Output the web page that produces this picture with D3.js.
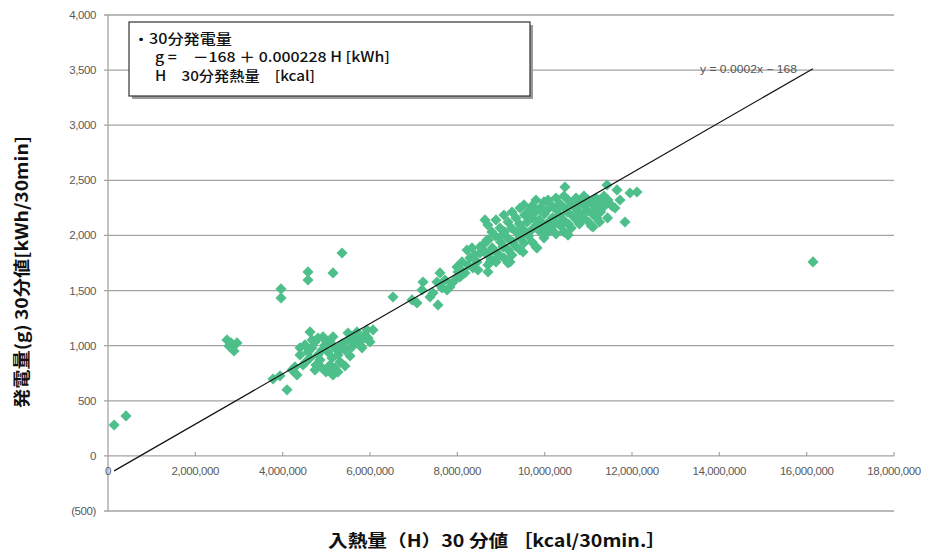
<!DOCTYPE html>
<html>
<head>
<meta charset="utf-8">
<script src="https://cdn.jsdelivr.net/npm/d3@7"></script>
<style>
  body { margin: 0; background: #fff; }
  svg { display: block; }
</style>
</head>
<body>
<svg id="chart" width="925" height="554"></svg>
<script>
// Axis ticks
const xTicks = [0, 2000000, 4000000, 6000000, 8000000, 10000000, 12000000, 14000000, 16000000, 18000000];
const yTicks = [-500, 0, 500, 1000, 1500, 2000, 2500, 3000, 3500, 4000];

// Regression: g = -168 + 0.000228 H
const regIntercept = -168;
const regSlope = 0.000228;
const regLabel = "y = 0.0002x − 168";

const legendLines = ["・30分発電量", "g =　－168 ＋ 0.000228 H [kWh]", "H　30分発熱量　[kcal]"];
const xTitle = "入熱量（H）30 分値 ［kcal/30min.］";
const yTitle = "発電量(g) 30分値[kWh/30min]";

// Measured 30-minute values: [heat input H (kcal), generation g (kWh)]
const lowLoad = [
  [140000, 280], [412000, 363],
  [2725000, 1052], [2954000, 1025], [2840000, 980], [2771000, 998], [2886000, 952], [2817000, 1025],
  [3962000, 1515], [3962000, 1433], [4580000, 1669], [4580000, 1596], [5153000, 1660], [5359000, 1841],
  [3779000, 698], [3939000, 726], [4214000, 780], [4328000, 735], [4282000, 807], [4099000, 599]
];
const midLoad = [
  [4511000, 1007], [4580000, 943], [4672000, 980], [4740000, 1034], [4809000, 916], [4855000, 871],
  [4901000, 961], [4969000, 1007], [5038000, 943], [5084000, 825], [5130000, 889], [5198000, 980],
  [5267000, 916], [5313000, 853], [5359000, 1016], [5427000, 961], [5496000, 1052], [5542000, 907],
  [5588000, 989], [5656000, 1034], [5725000, 1070], [5771000, 1007], [5817000, 1052], [5885000, 1097],
  [5954000, 1070], [6000000, 1034], [4534000, 853], [4626000, 889], [4763000, 825], [4901000, 798],
  [5038000, 780], [5198000, 798], [5267000, 762], [5427000, 816], [4672000, 1052], [4809000, 1070],
  [4969000, 1052], [5084000, 1034], [4397000, 916], [4466000, 825], [4397000, 980], [5313000, 961],
  [5588000, 1088], [5702000, 1125], [5817000, 980], [5931000, 1143], [4740000, 780], [5153000, 735],
  [4992000, 762], [4626000, 1125], [4924000, 1080], [5153000, 1080], [5496000, 1115], [6069000, 1143]
];
const rising = [
  [6527000, 1442], [6962000, 1415], [7076000, 1388], [7214000, 1578], [7191000, 1506], [7374000, 1442],
  [7443000, 1478], [7557000, 1370], [7534000, 1578], [7603000, 1660], [7763000, 1506], [7832000, 1533],
  [7878000, 1569], [7992000, 1714], [7946000, 1596], [8061000, 1623], [8130000, 1669], [8175000, 1660],
  [8244000, 1732], [8221000, 1868], [8359000, 1705], [8450000, 1760], [8519000, 1841], [8519000, 1896],
  [8588000, 1914], [8702000, 1669], [8679000, 1959], [8817000, 1868], [8908000, 1796], [8977000, 1986],
  [9046000, 1896], [9206000, 1760], [9275000, 1941], [9435000, 1986], [9504000, 1850], [9824000, 1887],
  [8290000, 1796], [8404000, 1823], [8633000, 1850], [8748000, 1760], [7717000, 1596], [8015000, 1669],
  [7649000, 1524], [8107000, 1760], [8336000, 1887], [8473000, 1687]
];
const highLoad = [
  [8700000, 2095], [8710000, 1959], [8690000, 1823], [8700000, 1732],
  [8790000, 2032], [8800000, 1887], [8780000, 1778],
  [8885000, 2141], [8870000, 1995], [8890000, 1850], [8885000, 1760],
  [8977000, 2068], [8990000, 1941], [8960000, 1823],
  [9068000, 2186], [9080000, 2032], [9060000, 1905], [9068000, 1796],
  [9160000, 2122], [9150000, 1977], [9170000, 1868], [9160000, 1750],
  [9252000, 2213], [9240000, 2068], [9260000, 1941], [9252000, 1823],
  [9343000, 2159], [9350000, 2032], [9330000, 1905],
  [9435000, 2249], [9420000, 2104], [9445000, 1977], [9435000, 1868],
  [9526000, 2277], [9540000, 2186], [9520000, 2050], [9526000, 1932],
  [9618000, 2213], [9600000, 2122], [9630000, 1995],
  [9710000, 2268], [9720000, 2159], [9700000, 2050], [9710000, 1941],
  [9801000, 2322], [9790000, 2213], [9810000, 2095], [9801000, 1896],
  [9893000, 2249], [9880000, 2141], [9900000, 2032],
  [9984000, 2304], [9995000, 2195], [9970000, 2086], [9984000, 1977],
  [10076000, 2322], [10060000, 2231], [10090000, 2122], [10076000, 2032],
  [10168000, 2268], [10180000, 2159], [10150000, 2068],
  [10259000, 2340], [10270000, 2231], [10245000, 2122], [10259000, 2014],
  [10351000, 2286], [10340000, 2186], [10365000, 2086],
  [10442000, 2358], [10455000, 2249], [10430000, 2141], [10442000, 2032],
  [10534000, 2322], [10520000, 2213], [10545000, 2104], [10534000, 2004],
  [10626000, 2277], [10640000, 2177], [10610000, 2068],
  [10717000, 2340], [10705000, 2249], [10730000, 2141],
  [10809000, 2304], [10820000, 2204], [10795000, 2104],
  [10900000, 2358], [10915000, 2268], [10890000, 2159],
  [10992000, 2322], [10980000, 2222], [11005000, 2122],
  [11084000, 2286], [11095000, 2195], [11070000, 2086],
  [11175000, 2340], [11160000, 2249], [11190000, 2159],
  [11267000, 2304], [11280000, 2213], [11255000, 2122],
  [11358000, 2358], [11370000, 2268],
  [11450000, 2322], [11440000, 2159],
  [11542000, 2268],
  [10465000, 2440], [11427000, 2458], [11656000, 2413], [11954000, 2385], [12114000, 2394],
  [11610000, 2249], [11839000, 2122], [10534000, 2004], [11107000, 2077], [8633000, 2141], [11725000, 2322]
];
const farPoint = [[16145000, 1760]];

const allPoints = [...lowLoad, ...midLoad, ...rising, ...highLoad, ...farPoint];

const svg = d3.select("#chart");
const plot = { left: 108, right: 894, top: 15, bottom: 511 };

const x = d3.scaleLinear().domain([0, 18000000]).range([plot.left, plot.right]);
const y = d3.scaleLinear().domain([-500, 4000]).range([plot.bottom, plot.top]);

const gridColor = "#a3a3a3";
const labelColor = "#5a5a5a";

// horizontal gridlines
svg.append("g")
  .selectAll("line")
  .data(yTicks)
  .join("line")
  .attr("x1", plot.left - 4)
  .attr("x2", plot.right)
  .attr("y1", d => y(d))
  .attr("y2", d => y(d))
  .attr("stroke", gridColor)
  .attr("stroke-width", 1.3);

// vertical axis line
svg.append("line")
  .attr("x1", plot.left).attr("x2", plot.left)
  .attr("y1", plot.top).attr("y2", plot.bottom)
  .attr("stroke", gridColor).attr("stroke-width", 1.3);

// x-axis ticks on the zero line
svg.append("g")
  .selectAll("line")
  .data(xTicks.slice(1))
  .join("line")
  .attr("x1", d => x(d)).attr("x2", d => x(d))
  .attr("y1", y(0) - 4).attr("y2", y(0))
  .attr("stroke", gridColor).attr("stroke-width", 1.2);

const fmt = d3.format(",");
svg.append("g")
  .selectAll("text")
  .data(yTicks)
  .join("text")
  .attr("x", 96)
  .attr("y", d => y(d) + 4)
  .attr("text-anchor", "end")
  .attr("font-family", "Liberation Sans, Arial, sans-serif")
  .attr("font-size", 11.5)
  .attr("letter-spacing", -0.4)
  .attr("fill", labelColor)
  .text(d => d < 0 ? "(" + fmt(-d) + ")" : fmt(d));

svg.append("g")
  .selectAll("text")
  .data(xTicks)
  .join("text")
  .attr("x", d => x(d))
  .attr("y", y(0) + 19)
  .attr("text-anchor", "middle")
  .attr("font-family", "Liberation Sans, Arial, sans-serif")
  .attr("font-size", 11.5)
  .attr("letter-spacing", -0.4)
  .attr("fill", labelColor)
  .text(d => fmt(d));

// scatter markers (diamonds)
const diamond = d3.symbol().type(d3.symbolSquare).size(62);
svg.append("g")
  .selectAll("path")
  .data(allPoints)
  .join("path")
  .attr("d", diamond)
  .attr("transform", d => `translate(${x(d[0])},${y(d[1])}) rotate(45)`)
  .attr("fill", "#4dbf8b");

// linear trend across the data range
const hMin = d3.min(allPoints, d => d[0]);
const hMax = d3.max(allPoints, d => d[0]);
svg.append("line")
  .attr("x1", x(hMin)).attr("y1", y(regIntercept + regSlope * hMin))
  .attr("x2", x(hMax)).attr("y2", y(regIntercept + regSlope * hMax))
  .attr("stroke", "#111").attr("stroke-width", 1.2);

svg.append("text")
  .attr("x", x(hMax) - 113)
  .attr("y", y(regIntercept + regSlope * hMax) + 4)
  .attr("font-family", "Liberation Sans, Arial, sans-serif")
  .attr("font-size", 10.5)
  .attr("textLength", 97)
  .attr("lengthAdjust", "spacingAndGlyphs")
  .attr("fill", "#555")
  .text(regLabel);

// legend box with shadow
const lg = { x: 129, y: 22, w: 401, h: 74 };
svg.append("rect")
  .attr("x", lg.x + 3).attr("y", lg.y + 3)
  .attr("width", lg.w).attr("height", lg.h)
  .attr("fill", "#9a9a9a");
svg.append("rect")
  .attr("x", lg.x).attr("y", lg.y)
  .attr("width", lg.w).attr("height", lg.h)
  .attr("fill", "#fff").attr("stroke", "#333").attr("stroke-width", 1.2);

const legendX = [133, 155, 155];
const legendY = [44, 62, 81];
const legendW = [99, 235, 160];
svg.append("g")
  .selectAll("text")
  .data(legendLines)
  .join("text")
  .attr("x", (d, i) => legendX[i])
  .attr("y", (d, i) => legendY[i])
  .attr("font-family", "Noto Sans CJK JP, sans-serif")
  .attr("font-weight", 500)
  .attr("font-size", 14)
  .attr("textLength", (d, i) => legendW[i])
  .attr("lengthAdjust", "spacingAndGlyphs")
  .attr("fill", "#111")
  .text(d => d);

// axis titles
svg.append("text")
  .attr("x", 497)
  .attr("y", 547)
  .attr("text-anchor", "middle")
  .attr("font-family", "Noto Sans CJK JP, sans-serif")
  .attr("font-weight", "bold")
  .attr("font-size", 17)
  .attr("textLength", 338)
  .attr("lengthAdjust", "spacingAndGlyphs")
  .attr("fill", "#111")
  .text(xTitle);

svg.append("text")
  .attr("transform", "translate(28,272) rotate(-90)")
  .attr("text-anchor", "middle")
  .attr("font-family", "Noto Sans CJK JP, sans-serif")
  .attr("font-weight", "bold")
  .attr("font-size", 17)
  .attr("textLength", 272)
  .attr("lengthAdjust", "spacingAndGlyphs")
  .attr("fill", "#111")
  .text(yTitle);
</script>
</body>
</html>
